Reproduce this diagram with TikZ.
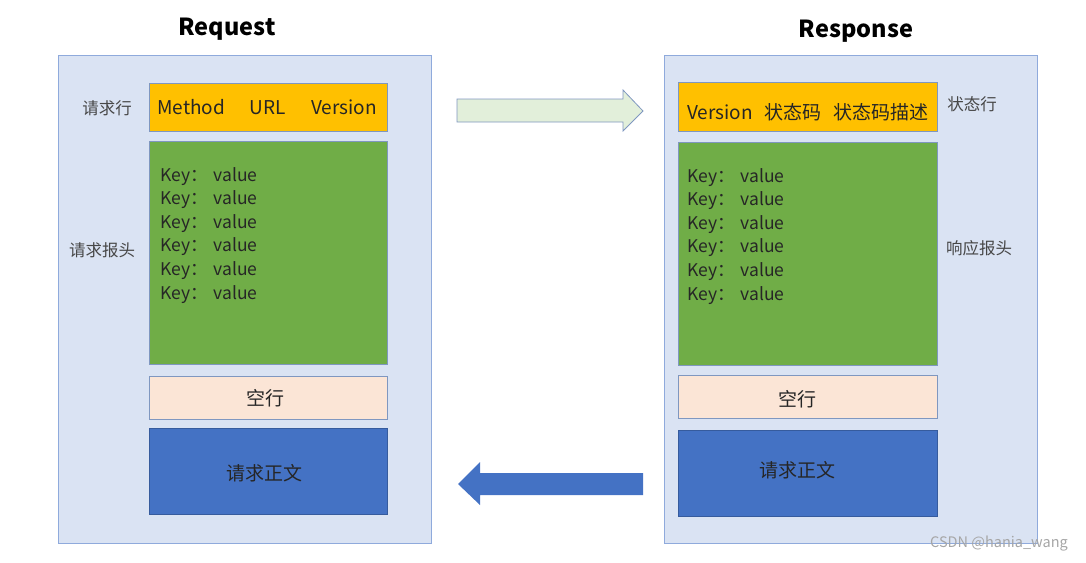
\documentclass[tikz,border=0pt]{standalone}
\usepackage{fontspec}
\setmainfont{Noto Sans CJK SC}
\usetikzlibrary{shapes.arrows}
\definecolor{outerfill}{HTML}{DAE3F3}
\definecolor{outerline}{HTML}{8FAADC}
\definecolor{orangef}{HTML}{FFC000}
\definecolor{greenf}{HTML}{70AD47}
\definecolor{emptyf}{HTML}{FBE5D6}
\definecolor{bluef}{HTML}{4472C4}
\definecolor{innerline}{HTML}{7F97C0}
\definecolor{txt}{HTML}{262626}
\definecolor{arrowg}{HTML}{E2EFDA}
\begin{document}
\begin{tikzpicture}[x=1pt,y=-1pt,
  outer/.style={draw=outerline,fill=outerfill,line width=1pt},
  inner/.style={draw=innerline,line width=0.8pt},
  lbl/.style={text=txt!85,font=\fontsize{16.5}{18}\selectfont,inner sep=0pt},
  kv/.style={text=txt,font=\fontsize{17.5}{23.6}\selectfont,align=left,anchor=north west,inner sep=0pt},
  big/.style={text=txt,font=\fontsize{19}{21}\selectfont},
  ttl/.style={text=black,font=\bfseries\fontsize{23.5}{26}\selectfont,inner sep=0pt}]
\useasboundingbox (0,0) rectangle (1086,562);
% Request
\node[ttl] (reqt) at (227,29) {Request};
\path[outer] (58,55) rectangle (431,543);
\path[inner,fill=orangef] (149,83) rectangle (387,131);
\node[big] (rl) at (267,107) {Method\hspace{25pt}URL\hspace{25pt}Version};
\path[inner,fill=greenf] (149,141) rectangle (387,364);
\node[kv] (rkv) at (160,167) {Key：\hspace{6pt}value\\Key：\hspace{6pt}value\\Key：\hspace{6pt}value\\Key：\hspace{6pt}value\\Key：\hspace{6pt}value\\Key：\hspace{6pt}value};
\path[inner,fill=emptyf] (149,376) rectangle (387,419);
\node[big] (rb) at (265,398) {空行};
\path[inner,draw=bluef!80!black,fill=bluef] (149,428) rectangle (387,514);
\node[big] (rbody) at (264,473) {请求正文};
\node[lbl] (l1) at (107,108) {请求行};
\node[lbl] (l2) at (102,250) {请求报头};
% Response
\node[ttl] (rest) at (856,31) {Response};
\path[outer] (664,55) rectangle (1037,543);
\path[inner,fill=orangef] (678,82) rectangle (937,131);
\node[big] (sl) at (808,112) {Version\hspace{12pt}状态码\hspace{12pt}状态码描述};
\path[inner,fill=greenf] (678,142) rectangle (937,365);
\node[kv] (skv) at (687,168) {Key：\hspace{6pt}value\\Key：\hspace{6pt}value\\Key：\hspace{6pt}value\\Key：\hspace{6pt}value\\Key：\hspace{6pt}value\\Key：\hspace{6pt}value};
\path[inner,fill=emptyf] (678,375) rectangle (937,418);
\node[big] (sb) at (797,399) {空行};
\path[inner,draw=bluef!80!black,fill=bluef] (678,430) rectangle (937,516);
\node[big] (sbody) at (797,470) {请求正文};
\node[lbl] (l3) at (972,104) {状态行};
\node[lbl] (l4) at (979,248) {响应报头};
% arrows
\path[draw=innerline,fill=arrowg,line width=0.8pt] (457,99) -- (623,99) -- (623,90) -- (643,111) -- (623,131) -- (623,122) -- (457,122) -- cycle;
\path[fill=bluef] (643,473) -- (480,473) -- (480,462) -- (458,484) -- (480,505) -- (480,495) -- (643,495) -- cycle;
% watermark
\node[text=gray!70,font=\fontsize{14.5}{16}\selectfont,inner sep=0pt] (wm) at (999,544) {CSDN @hania\_wang};
\end{tikzpicture}
\end{document}
